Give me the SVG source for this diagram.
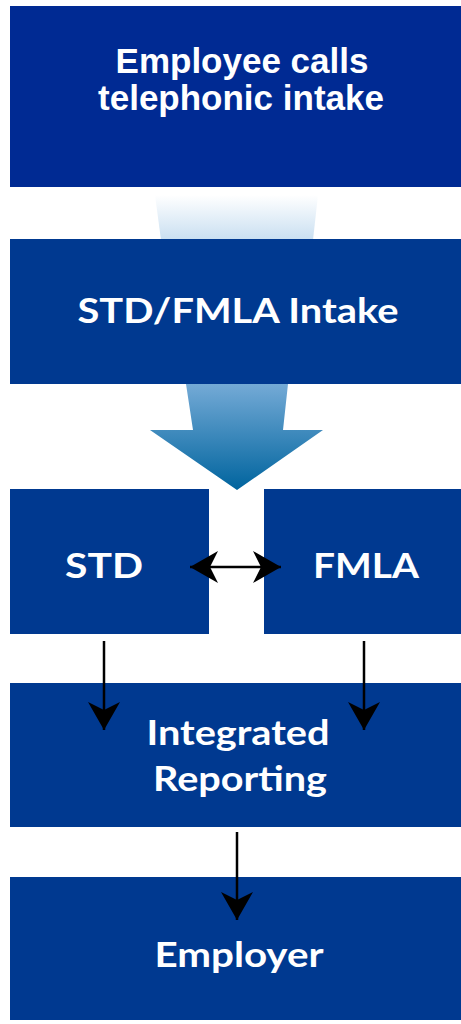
<svg xmlns="http://www.w3.org/2000/svg" width="461" height="1024" viewBox="0 0 461 1024">
<style>
.box{fill:#003990;}
.top{fill:#002a93;}
.t1{font-family:"Liberation Sans",Arial,sans-serif;font-weight:bold;font-size:35px;fill:#fff;text-anchor:middle;}
.t2{font-family:Lato,"Open Sans",sans-serif;font-weight:bold;font-size:34px;fill:#fff;text-anchor:middle;}
.c{stroke:#000;stroke-width:2.5;fill:none;}
</style>
<defs>
<linearGradient id="fade" x1="0" y1="0" x2="0" y2="1">
<stop offset="0" stop-color="#ffffff"/>
<stop offset="1" stop-color="#c9dff1"/>
</linearGradient>
<linearGradient id="big" x1="0" y1="0" x2="0" y2="1">
<stop offset="0" stop-color="#74aad6"/>
<stop offset="1" stop-color="#00649e"/>
</linearGradient>
<marker id="ah" markerUnits="userSpaceOnUse" markerWidth="30" markerHeight="34" refX="28" refY="16" orient="auto" viewBox="0 0 30 34">
<path d="M28,16 L0,0 L8,16 L0,32 Z" fill="#000"/>
</marker>
<marker id="ahs" markerUnits="userSpaceOnUse" markerWidth="30" markerHeight="34" refX="28" refY="16" orient="auto-start-reverse" viewBox="0 0 30 34">
<path d="M28,16 L0,0 L8,16 L0,32 Z" fill="#000"/>
</marker>
</defs>
<rect width="461" height="1024" fill="#fff"/>
<g id="node-employee">
<rect class="top" x="10" y="6" width="451" height="181"/>
<text class="t1" x="242" y="73">Employee calls</text>
<text class="t1" x="241" y="110">telephonic intake</text>
</g>
<g id="fade-arrow">
<polygon points="155,195 318,195 313,240 161,240" fill="url(#fade)"/>
</g>
<g id="node-intake">
<rect class="box" x="10" y="239" width="451" height="145"/>
<text class="t2" x="238" y="323" textLength="321" lengthAdjust="spacingAndGlyphs">STD/FMLA Intake</text>
</g>
<g id="big-arrow">
<polygon points="186,384 288,384 283,430 323,430 237,490 150,430 193,430" fill="url(#big)"/>
</g>
<g id="node-std">
<rect class="box" x="10" y="489" width="199" height="145"/>
<text class="t2" x="104" y="578" textLength="78" lengthAdjust="spacingAndGlyphs">STD</text>
</g>
<g id="node-fmla">
<rect class="box" x="264" y="489" width="197" height="145"/>
<text class="t2" x="366" y="578" textLength="106" lengthAdjust="spacingAndGlyphs">FMLA</text>
</g>
<g id="node-reporting">
<rect class="box" x="10" y="683" width="451" height="144"/>
<text class="t2" x="238" y="745" textLength="183" lengthAdjust="spacingAndGlyphs">Integrated</text>
<text class="t2" x="240" y="791" textLength="174" lengthAdjust="spacingAndGlyphs">Reporting</text>
</g>
<g id="node-employer">
<rect class="box" x="10" y="877" width="451" height="143"/>
<text class="t2" x="239" y="967" textLength="169" lengthAdjust="spacingAndGlyphs">Employer</text>
</g>
<g id="connectors">
<line class="c" x1="190" y1="567" x2="281" y2="567" marker-start="url(#ahs)" marker-end="url(#ah)"/>
<line class="c" x1="104" y1="641" x2="104" y2="730" marker-end="url(#ah)"/>
<line class="c" x1="364" y1="641" x2="364" y2="730" marker-end="url(#ah)"/>
<line class="c" x1="237" y1="832" x2="237" y2="920" marker-end="url(#ah)"/>
</g>
</svg>
